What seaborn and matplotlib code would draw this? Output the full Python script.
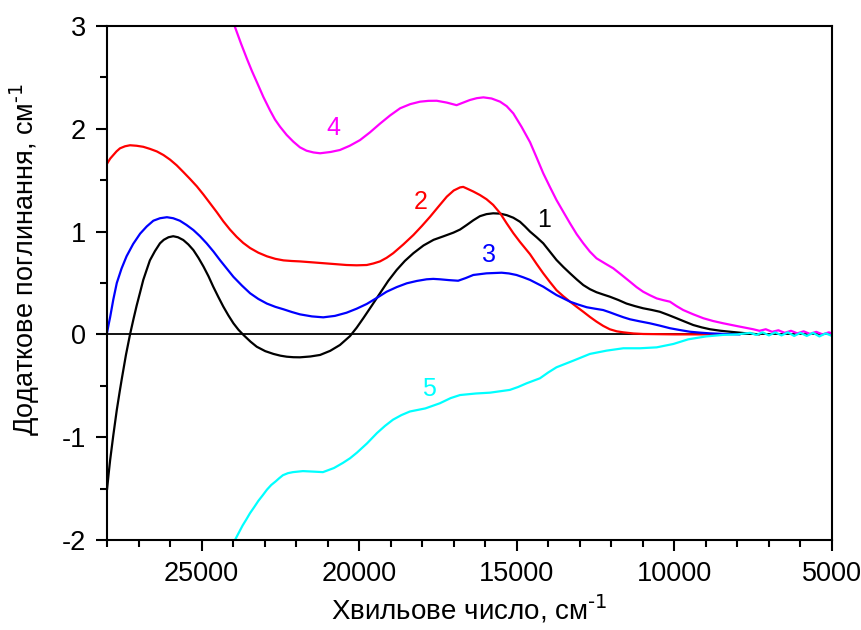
import pandas as pd
import numpy as np
import matplotlib
matplotlib.use('Agg')
import matplotlib.pyplot as plt
import seaborn as sns
from matplotlib.ticker import MultipleLocator

# curve 1 (black)
wn1 = [28000, 27950, 27900, 27800, 27690, 27600, 27530, 27400, 27270, 27160, 27060, 26950,
       26850, 26740, 26640, 26480, 26320, 26200, 26050, 25900, 25750, 25580, 25420, 25260,
       25100, 24940, 24780, 24630, 24470, 24310, 24150, 23990, 23830, 23670, 23450, 23250,
       22980, 22720, 22500, 22300, 22090, 21880, 21550, 21240, 20920, 20610, 20290, 20080,
       19870, 19600, 19340, 19080, 18810, 18550, 18280, 17960, 17640, 17320, 17010, 16800,
       16590, 16380, 16170, 15960, 15750, 15530, 15320, 15110, 14900, 14740, 14580, 14370,
       14160, 13950, 13740, 13520, 13310, 13100, 12890, 12680, 12470, 12260, 12050, 11780,
       11520, 11250, 10990, 10720, 10460, 10200, 9930, 9660, 9400, 9130, 8870, 8550,
       8240, 7700, 7300]
a1 = [-1.51, -1.36, -1.22, -0.98, -0.735, -0.56, -0.43, -0.20, 0.0, 0.15, 0.28, 0.41,
      0.53, 0.63, 0.72, 0.81, 0.886, 0.92, 0.945, 0.955, 0.945, 0.918, 0.875, 0.82,
      0.745, 0.66, 0.565, 0.464, 0.365, 0.27, 0.185, 0.108, 0.045, -0.006, -0.07, -0.12,
      -0.163, -0.19, -0.207, -0.217, -0.222, -0.223, -0.215, -0.20, -0.16, -0.103, -0.016, 0.065,
      0.157, 0.28, 0.40, 0.52, 0.627, 0.715, 0.79, 0.865, 0.92, 0.955, 0.99, 1.02,
      1.064, 1.11, 1.15, 1.17, 1.178, 1.175, 1.16, 1.135, 1.096, 1.05, 1.0, 0.945,
      0.886, 0.805, 0.724, 0.655, 0.594, 0.535, 0.48, 0.44, 0.41, 0.388, 0.367, 0.335,
      0.30, 0.275, 0.254, 0.238, 0.22, 0.19, 0.157, 0.123, 0.091, 0.068, 0.05, 0.036,
      0.026, 0.01, 0.0]

# curve 2 (red)
wn2 = [28000, 27900, 27800, 27700, 27590, 27430, 27270, 27060, 26850, 26640, 26420, 26210,
       26000, 25790, 25580, 25360, 25150, 24940, 24730, 24520, 24310, 24100, 23890, 23680,
       23460, 23200, 22930, 22660, 22400, 22140, 21880, 21450, 20900, 20400, 20080, 19760,
       19550, 19340, 19130, 18920, 18600, 18280, 18010, 17750, 17480, 17220, 17000, 16800,
       16700, 16590, 16380, 16170, 15960, 15750, 15530, 15320, 15110, 14900, 14740, 14580,
       14370, 14160, 13950, 13740, 13520, 13310, 13100, 12890, 12680, 12470, 12260, 12050,
       11830, 11620, 11300, 10990, 10000, 8650]
a2 = [1.66, 1.71, 1.745, 1.78, 1.81, 1.83, 1.84, 1.835, 1.825, 1.805, 1.78, 1.745,
      1.70, 1.645, 1.58, 1.51, 1.44, 1.36, 1.275, 1.19, 1.10, 1.02, 0.95, 0.89,
      0.84, 0.795, 0.76, 0.735, 0.72, 0.714, 0.71, 0.70, 0.687, 0.675, 0.672, 0.675,
      0.69, 0.71, 0.745, 0.79, 0.875, 0.967, 1.055, 1.145, 1.245, 1.34, 1.40, 1.43,
      1.435, 1.42, 1.39, 1.356, 1.315, 1.26, 1.18, 1.08, 0.985, 0.90, 0.84, 0.78,
      0.685, 0.594, 0.51, 0.43, 0.37, 0.318, 0.268, 0.22, 0.17, 0.124, 0.083, 0.05,
      0.03, 0.02, 0.009, 0.004, 0.0, 0.0]

# curve 3 (blue)
wn3 = [28000, 27950, 27900, 27800, 27690, 27540, 27380, 27170, 26950, 26740, 26530, 26320,
       26100, 25900, 25690, 25480, 25260, 25050, 24840, 24620, 24410, 24200, 23990, 23720,
       23460, 23200, 22930, 22660, 22400, 22140, 21880, 21500, 21140, 20770, 20400, 20080,
       19760, 19440, 19130, 18810, 18490, 18170, 17860, 17650, 17440, 17150, 16860, 16620,
       16380, 15960, 15480, 15250, 15010, 14800, 14580, 14370, 14160, 13950, 13740, 13520,
       13310, 13050, 12780, 12520, 12260, 12050, 11830, 11620, 11410, 11100, 10780, 10460,
       10140, 9820, 9510, 9190, 8870, 8400, 7920]
a3 = [0.014, 0.095, 0.17, 0.34, 0.50, 0.64, 0.76, 0.88, 0.98, 1.05, 1.106, 1.13,
      1.14, 1.13, 1.106, 1.065, 1.015, 0.955, 0.886, 0.805, 0.72, 0.64, 0.56, 0.475,
      0.40, 0.345, 0.30, 0.268, 0.244, 0.218, 0.195, 0.175, 0.166, 0.18, 0.211, 0.25,
      0.296, 0.355, 0.415, 0.46, 0.497, 0.52, 0.536, 0.54, 0.536, 0.528, 0.522, 0.548,
      0.578, 0.594, 0.60, 0.593, 0.578, 0.556, 0.53, 0.497, 0.464, 0.423, 0.383, 0.35,
      0.318, 0.29, 0.264, 0.25, 0.237, 0.215, 0.19, 0.167, 0.147, 0.127, 0.108, 0.085,
      0.06, 0.042, 0.026, 0.017, 0.01, 0.004, 0.0]

# curve 4 (magenta)
wn4 = [24050, 23940, 23750, 23560, 23400, 23240, 23040, 22830, 22670, 22510, 22300, 22090,
       21880, 21670, 21450, 21240, 20900, 20610, 20300, 19975, 19660, 19340, 19020, 18700,
       18380, 18070, 17800, 17540, 17220, 16910, 16700, 16490, 16270, 16060, 15800, 15530,
       15320, 15110, 14850, 14580, 14370, 14160, 13950, 13740, 13520, 13310, 13100, 12890,
       12680, 12470, 12200, 11940, 11680, 11410, 11200, 10990, 10770, 10560, 10350, 10140,
       9930, 9720, 9400, 9080, 8770, 8450, 8000, 7500, 7300, 7100, 6900, 6700,
       6500, 6300, 6100, 5900, 5700, 5500, 5300, 5100, 5000]
a4 = [3.08, 2.99, 2.83, 2.68, 2.56, 2.45, 2.31, 2.18, 2.09, 2.02, 1.94, 1.875,
      1.82, 1.787, 1.77, 1.762, 1.775, 1.794, 1.835, 1.89, 1.965, 2.05, 2.13, 2.20,
      2.24, 2.264, 2.272, 2.273, 2.255, 2.23, 2.255, 2.28, 2.298, 2.306, 2.295, 2.264,
      2.22, 2.15, 2.02, 1.87, 1.72, 1.567, 1.435, 1.307, 1.19, 1.08, 0.975, 0.886,
      0.805, 0.74, 0.69, 0.643, 0.58, 0.513, 0.46, 0.415, 0.38, 0.35, 0.333, 0.318,
      0.275, 0.237, 0.195, 0.157, 0.13, 0.108, 0.08, 0.05, 0.035, 0.05, 0.025, 0.04,
      0.015, 0.035, 0.01, 0.03, 0.005, 0.025, 0.0, 0.02, 0.01]

# curve 5 (cyan)
wn5 = [24050, 23940, 23820, 23700, 23580, 23465, 23330, 23200, 23060, 22925, 22790, 22650,
       22540, 22420, 22260, 22100, 21785, 21450, 21150, 20800, 20515, 20290, 20070, 19750,
       19436, 19180, 18928, 18660, 18390, 17900, 17440, 17100, 16800, 16300, 15850, 15220,
       14960, 14690, 14265, 14000, 13740, 13210, 12680, 12150, 11620, 11090, 10560, 10030,
       9560, 9000, 8460, 8000, 7600, 7400, 7200, 7000, 6800, 6600, 6400, 6200,
       6000, 5800, 5600, 5400, 5200, 5000]
a5 = [-2.08, -2.0, -1.93, -1.86, -1.80, -1.74, -1.68, -1.62, -1.565, -1.51, -1.465, -1.43,
      -1.40, -1.37, -1.35, -1.34, -1.33, -1.335, -1.34, -1.30, -1.25, -1.205, -1.15, -1.06,
      -0.96, -0.89, -0.83, -0.785, -0.75, -0.72, -0.67, -0.62, -0.59, -0.575, -0.567, -0.54,
      -0.512, -0.476, -0.427, -0.37, -0.32, -0.256, -0.19, -0.158, -0.135, -0.135, -0.126, -0.093,
      -0.048, -0.02, -0.005, 0.0, 0.015, -0.005, 0.02, -0.01, 0.02, -0.01, 0.02, -0.015,
      0.015, -0.015, 0.015, -0.02, 0.01, -0.015]

curves = ['1', '2', '3', '4', '5']
colors = {'1': 'black', '2': '#ff0000', '3': '#0000ff', '4': '#ff00ff', '5': '#00ffff'}

# label positions (wavenumber, value)
lab_x = [14150, 18050, 15880, 20820, 17790]
lab_y = [1.11, 1.29, 0.77, 2.01, -0.535]

frames = []
for name, wn, a in zip(curves, [wn1, wn2, wn3, wn4, wn5], [a1, a2, a3, a4, a5]):
    frames.append(pd.DataFrame({'wn': wn, 'a': a, 'curve': name}))
df = pd.concat(frames, ignore_index=True)

sns.set_style('ticks')
plt.rcParams['font.family'] = ['Liberation Sans', 'DejaVu Sans']
plt.rcParams['axes.unicode_minus'] = False
plt.rcParams['text.color'] = 'black'
plt.rcParams['axes.labelcolor'] = 'black'

fig = plt.figure(figsize=(8.61, 6.30), dpi=100)
ax = fig.add_axes([0.1243, 0.1429, 0.8420, 0.8158])

ax.axhline(0, color='black', lw=1.3, zorder=1)
sns.lineplot(data=df, x='wn', y='a', hue='curve', palette=colors, estimator=None,
             sort=False, lw=1.6, legend=False, ax=ax, zorder=2)

for name, x, y in zip(curves, lab_x, lab_y):
    ax.text(x, y, name, color=colors[name], fontsize=18, ha='center', va='center')

ax.set_xlim(28000, 5000)
ax.set_ylim(-2, 3)
ax.xaxis.set_major_locator(MultipleLocator(5000))
ax.xaxis.set_minor_locator(MultipleLocator(1000))
ax.yaxis.set_major_locator(MultipleLocator(1))
ax.yaxis.set_minor_locator(MultipleLocator(0.5))
ax.tick_params(which='major', direction='out', length=8, width=1.5, labelsize=19.5,
               color='black', labelcolor='black', pad=7)
ax.tick_params(which='minor', direction='out', length=5, width=1.5, color='black')
for s in ax.spines.values():
    s.set_linewidth(1.5)
    s.set_color('black')

ax.set_xlabel('Хвильове число, см$^{\\text{-1}}$', fontsize=20, labelpad=4)
ax.set_ylabel('Додаткове поглинання, см$^{\\text{-1}}$', fontsize=19.5)
ax.yaxis.set_label_coords(-0.09, 0.545)

fig.savefig('out.png', dpi=100)
